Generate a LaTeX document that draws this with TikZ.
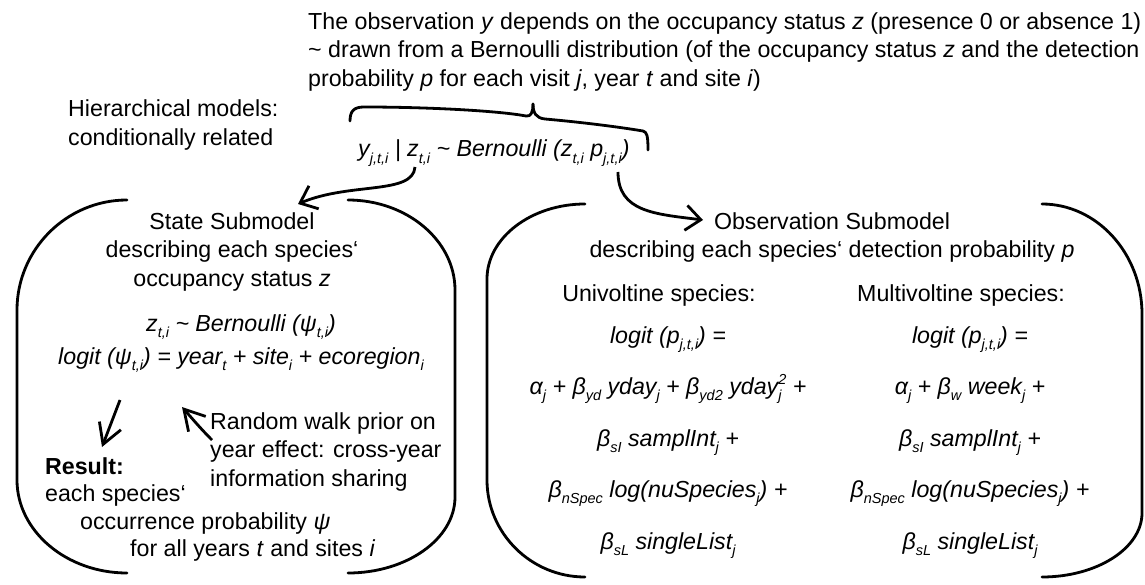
\documentclass[tikz,border=0pt]{standalone}
\usepackage{fontspec}
\setmainfont{Liberation Sans}
\usetikzlibrary{arrows.meta,calc}
\newcommand{\sbs}[1]{\raisebox{-0.27em}{\fontsize{14.5}{14.5}\selectfont #1}}
\newcommand{\sps}[1]{\raisebox{0.42em}{\fontsize{14.5}{14.5}\selectfont #1}}
\newcommand{\roundbrk}[4]{% round bracket, upper end at (#1), bulging #2 sideways,
  % #3 and #4 are the heights of the upper and lower bends
  \draw[line width=2.8pt, line cap=round]
    (#1) .. controls ($(#1)+({0.55*(#2)},0)$) and ($(#1)+(#2,{0.45*(#3)})$) .. ($(#1)+(#2,#3)$)
    -- ($(#1)+(#2,{373-(#4)})$)
    .. controls ($(#1)+(#2,{373-0.45*(#4)})$) and ($(#1)+({0.55*(#2)},373)$) .. ($(#1)+(0,373)$);
}

\begin{document}
\begin{tikzpicture}[x=1pt,y=-1pt,
  txt/.style={font=\fontsize{23.2}{28.5}\selectfont, inner sep=0pt},
  link/.style={line width=2.8pt, -{Straight Barb[length=15pt,width=25pt]}},
  shortlink/.style={line width=2.8pt, -{Straight Barb[length=20pt,width=23pt]}}]
  \useasboundingbox (0,0) rectangle (1145,585);

  \node[txt, anchor=north west, align=left] (obs) at (308,12)
    {The observation \textit{y} depends on the occupancy status \textit{z} (presence 0 or absence 1)\\
     \textasciitilde{} drawn from a Bernoulli distribution (of the occupancy status \textit{z} and the detection\\
     probability \textit{p} for each visit \textit{j}, year \textit{t} and site \textit{i})};
  \node[txt, anchor=north west, align=left] (hier) at (68,99.5)
    {Hierarchical models:\\conditionally related};
  \node[txt, anchor=base west, font=\fontsize{23.2}{28.5}\selectfont\itshape] (yz) at (358,157)
    {y\sbs{j,t,i} | z\sbs{t,i} \textasciitilde{} Bernoulli (z\sbs{t,i} p\sbs{j,t,i})};

  % brace over the likelihood
  \draw[line width=2.8pt, line cap=round, line join=round]
    (350,121) .. controls (350,111) and (354,107) .. (364,107)
    .. controls (430,107) and (500,111) .. (526,116)
    .. controls (531,117) and (533,112) .. (533,104);
  \draw[line width=2.8pt, line cap=round, line join=round]
    (533,104) .. controls (533,113) and (536,118) .. (545,119)
    .. controls (590,123) and (625,128) .. (643,131)
    .. controls (647,132) and (648,136) .. (648,150);

  % state submodel
  \roundbrk{127,200}{-110}{110}{93}
  \roundbrk{348,200}{107}{90}{76}
  \node[txt, anchor=north, align=center] (state) at (232,212)
    {State Submodel\\describing each species‘\\occupancy status \textit{z}};
  \node[txt, anchor=base, font=\fontsize{23.2}{28.5}\selectfont\itshape] (zfm) at (241,331)
    {z\sbs{t,i} \textasciitilde{} Bernoulli (ψ\sbs{t,i})};
  \node[txt, anchor=base, font=\fontsize{23.2}{28.5}\selectfont\itshape] (psifm) at (241,364)
    {logit (ψ\sbs{t,i}) = year\sbs{t} + site\sbs{i} + ecoregion\sbs{i}};
  \node[txt, anchor=north west, align=left] (rw) at (210,412)
    {Random walk prior on\\year effect: cross-year\\information sharing};
  \node[txt, anchor=north west, align=left, font=\fontsize{23.2}{27.5}\selectfont] (res) at (45,457)
    {\textbf{Result:}\\each species‘\\\hspace*{35pt}occurrence probability \textit{ψ}\\
     \hspace*{85pt}for all years \textit{t} and sites \textit{i}};

  % observation submodel
  \roundbrk{585,204}{-98}{75}{97}
  \roundbrk{1042,204}{100}{110}{64}
  \node[txt, anchor=north, align=center] (obst) at (832,212)
    {Observation Submodel\\describing each species‘ detection probability \textit{p}};
  \node[txt, anchor=base] (uni) at (659,301) {Univoltine species:};
  \node[txt, anchor=base] (multi) at (961,301) {Multivoltine species:};
  \node[txt, anchor=north, align=center, font=\fontsize{23.2}{51.5}\selectfont\itshape] (unifm) at (668,326)
    {logit (p\sbs{j,t,i}) =\\
     α\sbs{j} + β\sbs{yd} yday\sbs{j} + β\sbs{yd2} yday\rlap{\sbs{j}}\sps{2} +\\
     β\sbs{sI} samplInt\sbs{j} +\\
     β\sbs{nSpec} log(nuSpecies\sbs{j}) +\\
     β\sbs{sL} singleList\sbs{j}};
  \node[txt, anchor=north, align=center, font=\fontsize{23.2}{51.5}\selectfont\itshape] (multifm) at (970,326)
    {logit (p\sbs{j,t,i}) =\\
     α\sbs{j} + β\sbs{w} week\sbs{j} +\\
     β\sbs{sI} samplInt\sbs{j} +\\
     β\sbs{nSpec} log(nuSpecies\sbs{j}) +\\
     β\sbs{sL} singleList\sbs{j}};

  % arrows
  \coordinate (zt) at (415,167);
  \coordinate (statein) at (298,204);
  \coordinate (pt) at (618,172);
  \coordinate (obsin) at (703,220);
  \coordinate (psiout) at (120,400);
  \coordinate (resin) at (102,447);
  \coordinate (rwout) at (212,440);
  \coordinate (yearin) at (182,407);
  \draw[link] (zt) .. controls (413,195) and (350,182) .. (statein);
  \draw[link] (pt) .. controls (618,212) and (655,214) .. (obsin);
  \draw[shortlink] (psiout) -- (resin);
  \draw[shortlink] (rwout) .. controls (200,428) and (190,416) .. (yearin);
\end{tikzpicture}
\end{document}
